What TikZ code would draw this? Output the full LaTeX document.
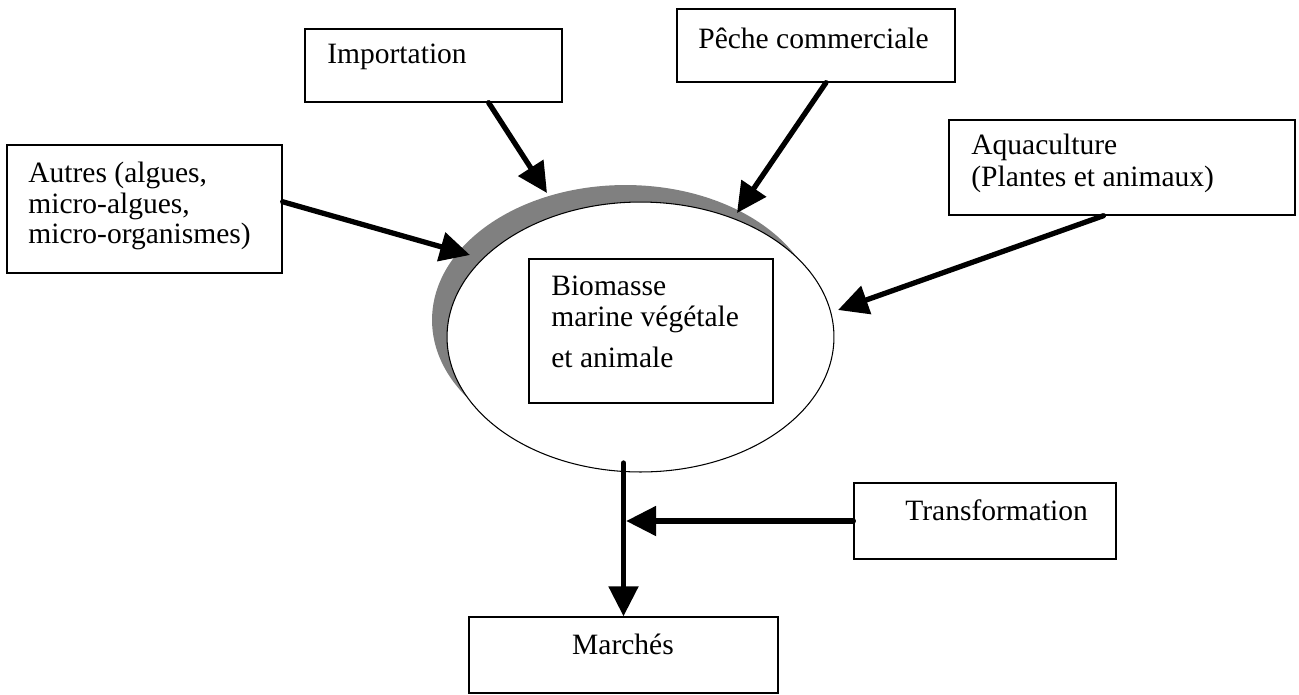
\documentclass[tikz,border=0pt]{standalone}
\usepackage{fontspec}
\setmainfont{Liberation Serif}
\usetikzlibrary{arrows.meta,shapes.geometric,calc}
\tikzset{
  box/.style={draw,line width=0.8pt,inner sep=0pt},
  lbl/.style={inner sep=0pt,align=left,font=\fontsize{16.8}{17.6}\selectfont},
  flow/.style={line width=3pt,line cap=round,-{Triangle[length=0.6cm,width=0.58cm]}},
  pool/.style={ellipse,inner sep=0pt,minimum width=7.74cm,minimum height=5.4cm}
}
\begin{document}
\begin{tikzpicture}[x=0.02cm,y=-0.02cm]
    \useasboundingbox (0,0) rectangle (1299,694);

    \node[pool,fill=black!50] (shadow) at (625.5,320) {};
    \node[pool,draw,fill=white,line width=0.6pt] (ell) at (640.5,337) {};

    \node[box,minimum width=5.14cm,minimum height=1.46cm] (imp) at (433.5,65.5) {};
    \node[box,minimum width=5.5cm,minimum height=2.56cm] (autres) at (144.5,209) {};
    \node[box,minimum width=5.56cm,minimum height=1.46cm] (peche) at (816,45.5) {};
    \node[box,minimum width=6.92cm,minimum height=1.9cm] (aqua) at (1122,167.5) {};
    \node[box,minimum width=4.88cm,minimum height=2.88cm] (bio) at (651,331) {};
    \node[box,minimum width=6.18cm,minimum height=1.52cm] (march) at (623.5,655) {};
    \node[box,minimum width=5.24cm,minimum height=1.52cm] (trans) at (985,521) {};

    \node[lbl,anchor=west] (impT) at (327,57) {Importation};
    \node[lbl,anchor=west] (autT) at (28,206) {Autres (algues,\\micro-algues,\\micro-organismes)};
    \node[lbl,anchor=west] (pecT) at (698,38) {Pêche commerciale};
    \node[lbl,anchor=west] (aquT) at (971,163.5) {Aquaculture\\[1pt](Plantes et animaux)};
    \node[lbl,anchor=west] (bioT) at (551,322) {Biomasse\\marine végétale\\[6pt]et animale};
    \node[lbl] (marT) at (623,644) {Marchés};
    \node[lbl,anchor=west] (traT) at (905,510) {Transformation};

    \coordinate (impTip) at (547,193);
    \coordinate (autTip) at (470,255);
    \coordinate (pecTip) at (737,213);
    \coordinate (aquTip) at (838,310);
    \coordinate (outlet) at (623.5,463);

    \draw[flow] (imp.-34) -- (impTip);
    \draw[flow] (autres.3) -- (autTip);
    \draw[flow] (peche.-75) -- (pecTip);
    \draw[flow] (aqua.-111) -- (aquTip);
    \draw[flow] (outlet) -- (march.north);
    \draw[flow,shorten >=1.5pt] (trans.west) -- (trans.west -| march.north);
\end{tikzpicture}
\end{document}
